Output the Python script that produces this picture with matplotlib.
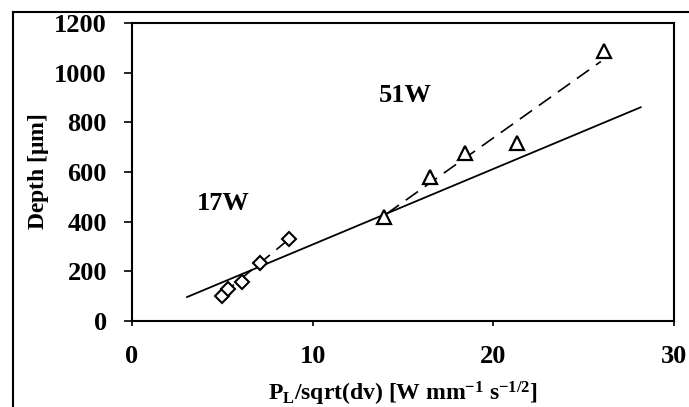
import matplotlib
matplotlib.use("Agg")
import matplotlib.pyplot as plt
from matplotlib.lines import Line2D

# Data
x_17w = [5.0, 5.3, 6.1, 7.1, 8.7]
y_17w = [102, 128, 157, 235, 330]
x_51w = [13.95, 16.5, 18.45, 21.3, 26.15]
y_51w = [418, 578, 678, 718, 1088]

# Trend lines (end points)
fit_all_x = [3.0, 28.2]
fit_all_y = [95, 862]
fit_17w_x = [5.0, 8.5]
fit_17w_y = [108, 318]
fit_51w_x = [14.1, 25.95]
fit_51w_y = [432, 1045]

xticks = [0, 10, 20, 30]
yticks = [0, 200, 400, 600, 800, 1000, 1200]

plt.rcParams['font.family'] = ['Liberation Serif', 'DejaVu Serif']
plt.rcParams['mathtext.fontset'] = 'custom'
plt.rcParams['mathtext.rm'] = 'Liberation Serif:bold'
plt.rcParams['mathtext.bf'] = 'Liberation Serif:bold'
plt.rcParams['mathtext.it'] = 'Liberation Serif:bold'

fig = plt.figure(figsize=(6.89, 4.07), dpi=100)
ax = fig.add_axes([132/689, 1-321/407, (674-132)/689, (321-23)/407])

ax.plot(fit_all_x, fit_all_y, color='black', lw=1.3, solid_capstyle='butt')
ax.plot(fit_17w_x, fit_17w_y, color='black', lw=1.2, dashes=(9, 5))
ax.plot(fit_51w_x, fit_51w_y, color='black', lw=1.2, dashes=(9, 5))
ax.plot(x_17w, y_17w, linestyle='none', marker='D', markersize=7,
        markerfacecolor='white', markeredgecolor='black', markeredgewidth=1.5)
ax.plot(x_51w, y_51w, linestyle='none', marker='^', markersize=10,
        markerfacecolor='white', markeredgecolor='black', markeredgewidth=1.6)

ax.text(5.05, 475, '17W', ha='center', va='center', fontsize=19, fontweight='bold')
ax.text(15.1, 910, '51W', ha='center', va='center', fontsize=19, fontweight='bold')

ax.set_xlim(0, 30)
ax.set_ylim(0, 1200)
ax.set_xticks(xticks)
ax.set_yticks(yticks)
ax.set_xticklabels([str(v) for v in xticks], fontsize=19, fontweight='bold')
ax.set_yticklabels([str(v) for v in yticks], fontsize=19, fontweight='bold')
ax.tick_params(axis='y', direction='out', length=6, width=1.2, pad=12)
ax.tick_params(axis='x', direction='out', length=3.5, width=1.2, pad=14)
for s in ax.spines.values():
    s.set_linewidth(1.5)

ax.set_xlabel(r'P$_\mathregular{L}$/sqrt(dv) [W mm$^\mathregular{-1}$ s$^\mathregular{-1/2}$]',
              fontsize=17, fontweight='bold', labelpad=8)
ax.set_ylabel(r'Depth [$\mathregular{\mu}$m]', fontsize=17, fontweight='bold', labelpad=2)

# Figure frame (left and top edges visible)
fx = 13/689
fy = 1 - 12/407
fig.add_artist(Line2D([fx, fx], [0, fy], transform=fig.transFigure, color='black', lw=1.5))
fig.add_artist(Line2D([fx, 1], [fy, fy], transform=fig.transFigure, color='black', lw=1.5))

fig.savefig('out.png', dpi=100)
